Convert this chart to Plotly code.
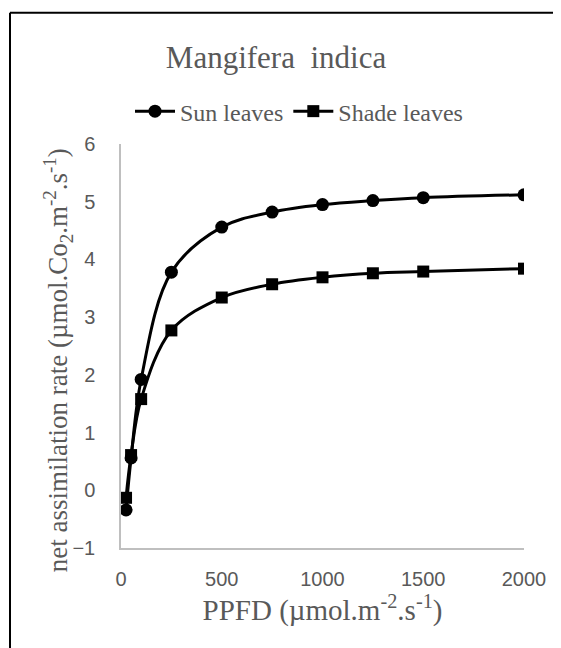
import plotly.graph_objects as go

ppfd = [25, 50, 100, 250, 500, 750, 1000, 1250, 1500, 2000]
sun_leaves = [-0.34, 0.56, 1.92, 3.78, 4.56, 4.82, 4.95, 5.02, 5.07, 5.12]
shade_leaves = [-0.13, 0.61, 1.58, 2.77, 3.34, 3.57, 3.69, 3.76, 3.79, 3.84]

x_ticks = [0, 500, 1000, 1500, 2000]
y_ticks = [-1, 0, 1, 2, 3, 4, 5, 6]

SERIF = "Liberation Serif, Times New Roman, serif"
SANS = "Liberation Sans, Arial, sans-serif"
GREY = "#595959"

fig = go.Figure()
fig.add_trace(go.Scatter(
    x=ppfd, y=sun_leaves, name="Sun leaves", mode="lines+markers",
    line=dict(color="black", width=3, shape="spline", smoothing=1),
    marker=dict(symbol="circle", size=13, color="black"),
))
fig.add_trace(go.Scatter(
    x=ppfd, y=shade_leaves, name="Shade leaves", mode="lines+markers",
    line=dict(color="black", width=3, shape="spline", smoothing=1),
    marker=dict(symbol="square", size=12, color="black"),
))

# page body has an 8px margin: figure is shifted so it lands on the reference grid
OFF = 8
W, H = 561 - OFF, 648 - OFF
L, R, T, B = 121 - OFF, 561 - 524, 143.5 - OFF, 648 - 548
pw, ph = W - L - R, H - T - B

def px(x):
    return (x - OFF - L) / pw

def py(y):
    return (H - B - (y - OFF)) / ph

fig.update_layout(
    width=W, height=H,
    margin=dict(l=L, r=R, t=T, b=B),
    paper_bgcolor="white", plot_bgcolor="white",
    title=dict(text="Mangifera  indica", x=(276 - OFF) / W, xanchor="center",
               y=1 - (57 - OFF) / H, yanchor="middle",
               font=dict(family=SERIF, size=31, color=GREY)),
    showlegend=True,
    legend=dict(orientation="h", x=px(299), xanchor="center", y=py(111),
                yanchor="middle", font=dict(family=SERIF, size=24, color=GREY),
                itemwidth=40, tracegroupgap=0, bgcolor="rgba(0,0,0,0)"),
    xaxis=dict(range=[0, 2000], tickvals=x_ticks, showgrid=False, zeroline=False,
               showline=True, linecolor="#bfbfbf", linewidth=1.5, ticks="",
               tickfont=dict(family=SANS, size=20, color=GREY),
               ticklabelstandoff=12,
               title=dict(text="PPFD (µmol.m<sup>-2</sup>.s<sup>-1</sup>)",
                          font=dict(family=SERIF, size=29, color=GREY), standoff=8)),
    yaxis=dict(range=[-1, 6], tickvals=y_ticks, showgrid=False, zeroline=False,
               showline=True, linecolor="#bfbfbf", linewidth=1.5, ticks="",
               tickfont=dict(family=SANS, size=20, color=GREY),
               ticklabelstandoff=20),
    annotations=[
        dict(text="net assimilation rate (µmol.Co<sub>2</sub>.m<sup>-2</sup>.s<sup>-1</sup>)",
             xref="paper", yref="paper", x=px(58), y=py(360), xanchor="center",
             yanchor="middle", textangle=-90, showarrow=False,
             font=dict(family=SERIF, size=27, color=GREY)),
    ],
    shapes=[
        dict(type="line", xref="paper", yref="paper", x0=px(10), x1=px(10),
             y0=py(12), y1=py(H + 20), line=dict(color="black", width=2)),
        dict(type="line", xref="paper", yref="paper", x0=px(10), x1=px(W + 20),
             y0=py(12), y1=py(12), line=dict(color="black", width=2)),
    ],
)

fig.write_html("out.html")
